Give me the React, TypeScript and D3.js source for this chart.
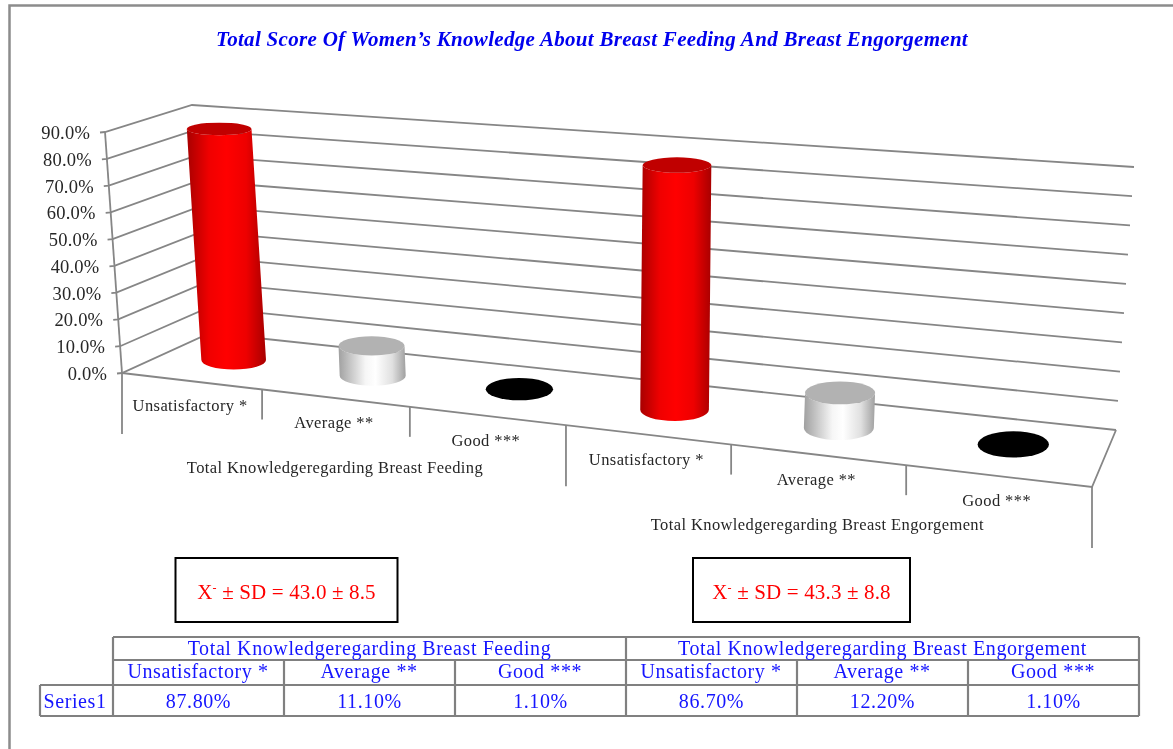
import React from "react";
import * as d3 from "d3";

const title = "Total Score Of Women’s Knowledge About Breast Feeding And Breast Engorgement";
const groups = ["Total Knowledgeregarding Breast Feeding", "Total Knowledgeregarding Breast Engorgement"];
const categories = ["Unsatisfactory *", "Average **", "Good ***"];
const feedingValues = [87.8, 11.1, 1.1];
const engorgementValues = [86.7, 12.2, 1.1];
const yTicks = [0, 10, 20, 30, 40, 50, 60, 70, 80, 90];
const stats = ["43.0 ± 8.5", "43.3 ± 8.8"];
const seriesName = "Series1";

const W = 1173, H = 749;
const FONT = "'Liberation Serif','Times New Roman',serif";
const GRID = "#868686";

// box corners of the 3D plot
const FL = [122, 373], FR = [1092, 487], BL = [210, 333], BR = [1116, 430];
const TFL = [105, 132], TFR = [1113, 209], TBL = [192, 105], TBR = [1134, 167];
const PERSPECTIVE = 0.156;
const BAR_DEPTH = 0.51;

const allValues = [...feedingValues, ...engorgementValues];
const catKeys = d3.range(allValues.length);
const uScale = d3.scaleBand<number>().domain(catKeys).range([0, 1]);
const vScale = d3.scaleLinear().domain([0, 90]).range([0, 1]);
const warp = (t: number) => ((t / (1 - PERSPECTIVE * t)) * (1 - PERSPECTIVE));

const lerp = (a: number[], b: number[], t: number) => [a[0] + (b[0] - a[0]) * t, a[1] + (b[1] - a[1]) * t];
// t across (0..1), d depth (0 front..1 back), value
function project(t: number, d: number, value: number) {
  const w = warp(t);
  const low = lerp(lerp(FL, FR, w), lerp(BL, BR, w), d);
  const high = lerp(lerp(TFL, TFR, w), lerp(TBL, TBR, w), d);
  return lerp(low, high, vScale(value));
}
const centerT = (i: number) => uScale(i)! + uScale.bandwidth() / 2;

function Cylinder({ i, value }: { i: number; value: number }) {
  const t = centerT(i);
  const [bx, by] = project(t, BAR_DEPTH, 0);
  const [tx, ty] = project(t, BAR_DEPTH, value);
  const rx = 32 + 4 * t;
  const ryB = 9 + 4 * t;
  const ryT = ryB * (1 - 0.33 * vScale(value));
  const kind = i % 3;
  if (kind === 2) {
    return <ellipse cx={tx} cy={ty} rx={rx} ry={ryB + 0.5} fill="#000" />;
  }
  const side = `M${tx - rx},${ty} L${bx - rx},${by} A${rx},${ryB} 0 0 0 ${bx + rx},${by} L${tx + rx},${ty} A${rx},${ryT} 0 0 1 ${tx - rx},${ty} Z`;
  return (
    <g>
      <path d={side} fill={`url(#${kind === 0 ? "redSide" : "graySide"})`} />
      <ellipse cx={tx} cy={ty} rx={rx} ry={ryT} fill={kind === 0 ? "#c00000" : "#b2b2b2"} />
    </g>
  );
}

const chartText = { fontFamily: FONT, fontSize: 16.5, letterSpacing: 0.4, fill: "#262626", textAnchor: "middle" as const };
const tableText = { fontFamily: FONT, fontSize: 20, letterSpacing: 0.6, fill: "#1414ff", textAnchor: "middle" as const };

// table layout
const rowY = [637, 660, 685, 716];
const colX = d3.scaleLinear().domain([0, allValues.length]).range([113, 1139]);

export default function App() {
  const groupTicks = d3.range(allValues.length + 1);
  const frontEdgeY = (k: number) => project(k / allValues.length, 0, 0);

  return (
    <svg width={W} height={H} style={{ position: "absolute", left: 0, top: 0, background: "#fff" }}>
      <defs>
        <filter id="soft" x="0" y="0" width="100%" height="100%">
          <feGaussianBlur stdDeviation="0.35" />
        </filter>
        <linearGradient id="redSide" x1="0" x2="1" y1="0" y2="0">
          <stop offset="0" stopColor="#a80000" />
          <stop offset="0.28" stopColor="#f00000" />
          <stop offset="0.5" stopColor="#ff0000" />
          <stop offset="0.75" stopColor="#ee0000" />
          <stop offset="1" stopColor="#a80000" />
        </linearGradient>
        <linearGradient id="graySide" x1="0" x2="1" y1="0" y2="0">
          <stop offset="0" stopColor="#a0a0a0" />
          <stop offset="0.4" stopColor="#f6f6f6" />
          <stop offset="0.55" stopColor="#ffffff" />
          <stop offset="0.8" stopColor="#e0e0e0" />
          <stop offset="1" stopColor="#a0a0a0" />
        </linearGradient>
      </defs>

      <g filter="url(#soft)">
        <rect x={0} y={0} width={W} height={H} fill="#fff" />
        {/* frame */}
        <path d={`M9.5,${H} L9.5,5.5 L${W},5.5`} fill="none" stroke="#8c8c8c" strokeWidth={2.5} />

        <text x={592} y={46} textAnchor="middle" fontFamily={FONT} fontWeight="bold" fontStyle="italic" fontSize={21} letterSpacing={0.3} fill="#0000ee">{title}</text>

        {/* walls */}
        {yTicks.map((v) => {
          const a = project(0, 0, v), b = project(0, 1, v), c = project(1, 1, v);
          return (
            <g key={v}>
              <polyline points={`${a[0] - 5},${a[1] + 0.5} ${a} ${b} ${c}`} fill="none" stroke={GRID} strokeWidth={1.8} />
              <text x={a[0] - 15} y={a[1] + 7} textAnchor="end" fontFamily={FONT} fontSize={18.5} letterSpacing={0.2} fill="#262626">{v.toFixed(1)}%</text>
            </g>
          );
        })}
        <line x1={TFL[0]} y1={TFL[1]} x2={FL[0]} y2={FL[1]} stroke={GRID} strokeWidth={1.8} />

        {/* floor */}
        <polyline points={`${FL} ${FR} ${BR}`} fill="none" stroke={GRID} strokeWidth={1.8} />
        {groupTicks.map((k) => {
          const [x, y] = frontEdgeY(k);
          const len = k % 3 === 0 ? 61 : 30;
          return <line key={k} x1={x} y1={y} x2={x} y2={y + len} stroke={GRID} strokeWidth={1.8} />;
        })}

        {/* bars */}
        {allValues.map((v, i) => <Cylinder key={i} i={i} value={v} />)}

        {/* category labels */}
        {allValues.map((_, i) => {
          const [x, y] = project(centerT(i), 0, 0);
          return <text key={i} x={x - 1} y={y + 30} {...chartText}>{categories[i % 3]}</text>;
        })}
        {groups.map((g, j) => {
          const [x, y] = project((j * 3 + 1.5) / allValues.length, 0, 0);
          return <text key={g} x={x} y={y + 75} {...chartText}>{g}</text>;
        })}

        {/* stat boxes */}
        {stats.map((s, j) => {
          const x = j === 0 ? 175.5 : 693, w = j === 0 ? 222 : 217;
          return (
            <g key={s}>
              <rect x={x} y={558} width={w} height={64} fill="#fff" stroke="#000" strokeWidth={2} />
              <text x={x + w / 2} y={599} textAnchor="middle" fontFamily={FONT} fontSize={21} letterSpacing={0.15} fill="#ff0000">
                X<tspan dy={-7} fontSize={12}>-</tspan><tspan dy={7}> ± SD = {s}</tspan>
              </text>
            </g>
          );
        })}

        {/* data table */}
        <g stroke="#808080" strokeWidth={2.2} fill="none">
          <line x1={colX(0)} y1={rowY[0]} x2={colX(6)} y2={rowY[0]} />
          <line x1={colX(0)} y1={rowY[1]} x2={colX(6)} y2={rowY[1]} />
          <line x1={40} y1={rowY[2]} x2={colX(6)} y2={rowY[2]} />
          <line x1={40} y1={rowY[3]} x2={colX(6)} y2={rowY[3]} />
          <line x1={40} y1={rowY[2]} x2={40} y2={rowY[3]} />
          {groupTicks.map((k) => (
            <line key={k} x1={colX(k)} y1={k % 3 === 0 ? rowY[0] : rowY[1]} x2={colX(k)} y2={rowY[3]} />
          ))}
        </g>
        {groups.map((g, j) => (
          <text key={g} x={colX(j * 3 + 1.5)} y={rowY[0] + 18} {...tableText}>{g}</text>
        ))}
        {allValues.map((v, i) => (
          <g key={i}>
            <text x={colX(i + 0.5) - 0.5} y={rowY[1] + 18} {...tableText}>{categories[i % 3]}</text>
            <text x={colX(i + 0.5)} y={rowY[2] + 23} {...tableText}>{v.toFixed(2)}%</text>
          </g>
        ))}
        <text x={75} y={rowY[2] + 23} {...tableText}>{seriesName}</text>
      </g>
    </svg>
  );
}
